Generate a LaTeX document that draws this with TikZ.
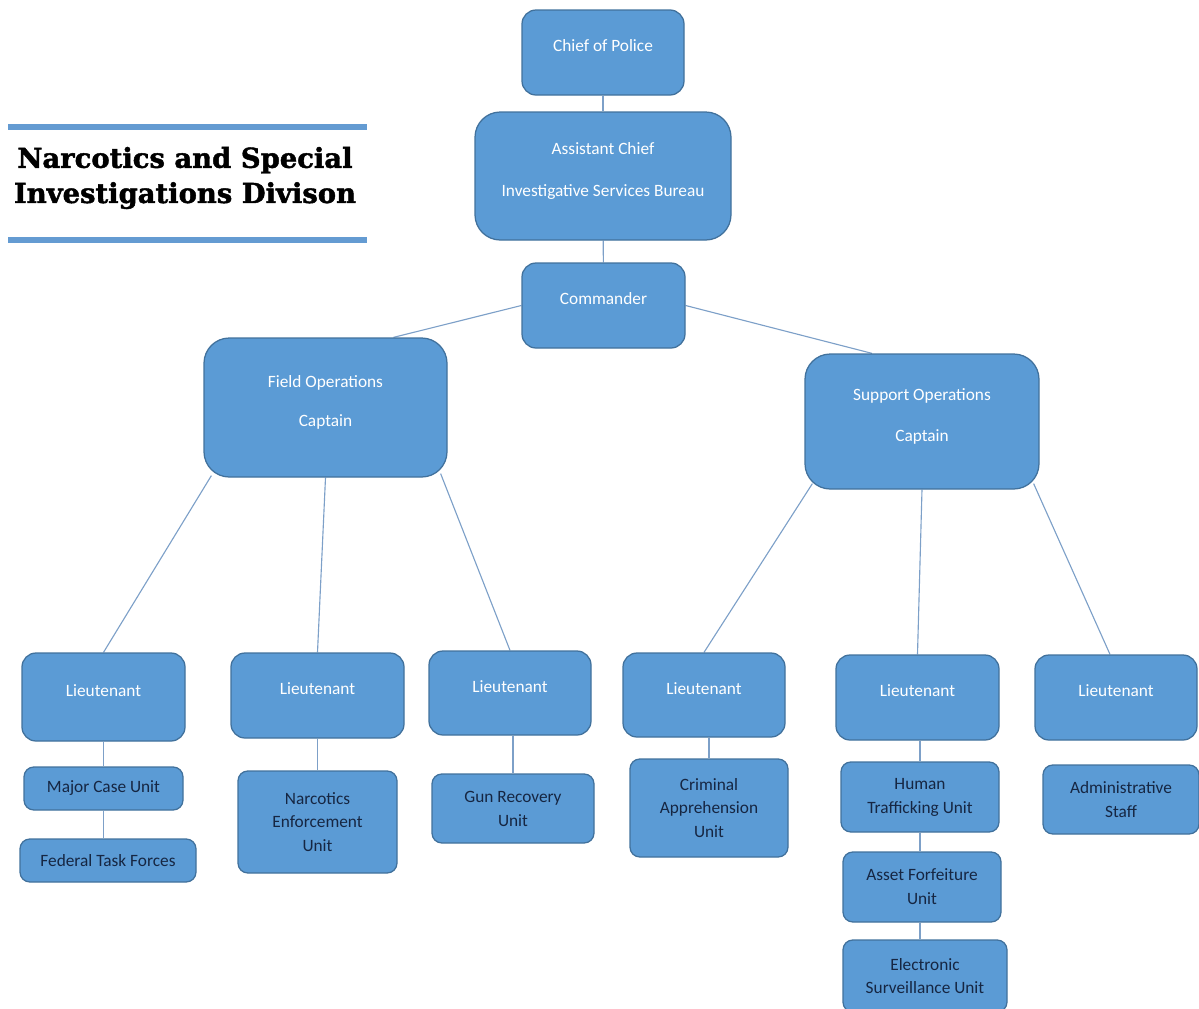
\documentclass[tikz,border=0pt]{standalone}
\usepackage{fontspec}
\setmainfont{Carlito}
\newfontfamily\titlefont{DejaVu Serif}[BoldFeatures={FakeBold=1.6}]
\usetikzlibrary{calc,backgrounds}
\definecolor{boxfill}{RGB}{91,155,213}
\definecolor{boxline}{RGB}{65,113,156}
\definecolor{unittext}{RGB}{22,38,66}
\definecolor{linkcol}{RGB}{125,160,200}
\definecolor{rulecol}{RGB}{100,155,210}
\newcommand\liftline{\\[-7.5pt]\mbox{}}
\tikzset{
  boxsize/.style 2 args={minimum width=#1*0.025cm, minimum height=#2*0.025cm},
  orgbox/.style={draw=boxline, fill=boxfill, line width=0.9pt, rounded corners=10pt,
    align=center, inner sep=0pt, font=\fontsize{12.3}{17}\selectfont},
  rankbox/.style={orgbox, text=white},
  unitbox/.style={orgbox, text=unittext, rounded corners=7pt},
  link/.style={draw=linkcol, line width=0.8pt},
}
\begin{document}
\begin{tikzpicture}[x=0.025cm, y=-0.025cm]
\useasboundingbox (0,0) rectangle (1199,1008);
% title
\draw [rulecol, line width=3.6pt] (8,127) -- (367,127);
\draw [rulecol, line width=3.6pt] (8,240) -- (367,240);
\node [align=center, font=\titlefont\bfseries\fontsize{19.5}{25}\selectfont] (title) at (185,178)
  {Narcotics and Special\\Investigations Divison};
% command chain
\node [rankbox, boxsize={162}{85}] (chief) at (603,52.5) {Chief of Police\liftline};
\node [rankbox, boxsize={256}{128}, rounded corners=18pt] (asst) at (603,176)
  {Assistant Chief\\[13pt]Investigative Services Bureau\liftline};
\node [rankbox, boxsize={163}{85}] (cmdr) at (603.5,305.5) {Commander\liftline};
\node [rankbox, boxsize={243}{139}, rounded corners=18pt] (fo) at (325.5,407.5)
  {Field Operations\\[11pt]Captain\liftline};
\node [rankbox, boxsize={234}{135}, rounded corners=18pt] (so) at (922,421.5)
  {Support Operations\\[12pt]Captain\liftline};
% lieutenants
\node [rankbox, boxsize={163}{88}] (lt1) at (103.5,697) {Lieutenant\liftline};
\node [rankbox, boxsize={173}{85}] (lt2) at (317.5,695.5) {Lieutenant\liftline};
\node [rankbox, boxsize={162}{84}] (lt3) at (510,693) {Lieutenant\liftline};
\node [rankbox, boxsize={162}{84}] (lt4) at (704,695) {Lieutenant\liftline};
\node [rankbox, boxsize={163}{85}] (lt5) at (917.5,697.5) {Lieutenant\liftline};
\node [rankbox, boxsize={162}{85}] (lt6) at (1116,697.5) {Lieutenant\liftline};
% units
\node [unitbox, boxsize={159}{43}] (mcu) at (103.5,788.5) {Major Case Unit};
\node [unitbox, boxsize={176}{43}] (ftf) at (108,860.5) {Federal Task Forces};
\node [unitbox, boxsize={159}{102}] (neu) at (317.5,822) {Narcotics\\Enforcement\\Unit};
\node [unitbox, boxsize={162}{69}] (gru) at (513,808.5) {Gun Recovery\\Unit};
\node [unitbox, boxsize={158}{98}] (cau) at (709,808) {Criminal\\Apprehension\\Unit};
\node [unitbox, boxsize={158}{70}] (htu) at (920,797) {Human\\Trafficking Unit};
\node [unitbox, boxsize={158}{70}] (afu) at (922,887) {Asset Forfeiture\\Unit};
\node [unitbox, boxsize={164}{72}] (esu) at (925,976) {Electronic\\Surveillance Unit};
\node [unitbox, boxsize={156}{69}] (adm) at (1121,799.5) {Administrative\\Staff};
% connectors
\begin{scope}[on background layer]
\draw [link] (chief) -- (asst);
\draw [link] (asst) -- (cmdr);
\draw [link] (cmdr.west) -- ($(fo.north)+(68,0)$);
\draw [link] (cmdr.east) -- ($(so.north)+(-50,0)$);
\draw [link] ($(fo.south west)+(8,-2)$) -- (lt1.north);
\draw [link] (fo.south) -- (lt2.north);
\draw [link] ($(fo.south east)+(-7,-4)$) -- (lt3.north);
\draw [link] ($(so.south west)+(8,-6)$) -- (lt4.north);
\draw [link] (so.south) -- (lt5.north);
\draw [link] ($(so.south east)+(-6,-6)$) -- ($(lt6.north)+(-6,0)$);
\draw [link] (lt1.south) -- (mcu.north);
\draw [link] (mcu.south) -- (mcu.south |- ftf.north);
\draw [link] (lt2.south) -- (neu.north);
\draw [link] (gru.north |- lt3.south) -- (gru.north);
\draw [link] (cau.north |- lt4.south) -- (cau.north);
\draw [link] (htu.north |- lt5.south) -- (htu.north);
\draw [link] (htu.south) -- (htu.south |- afu.north);
\draw [link] (htu.south |- afu.south) -- (htu.south |- esu.north);
\draw [link] ($(lt6.south)+(6,0)$) -- ($(lt6.south)+(6,0)$ |- adm.north);
\end{scope}
\end{tikzpicture}
\end{document}
